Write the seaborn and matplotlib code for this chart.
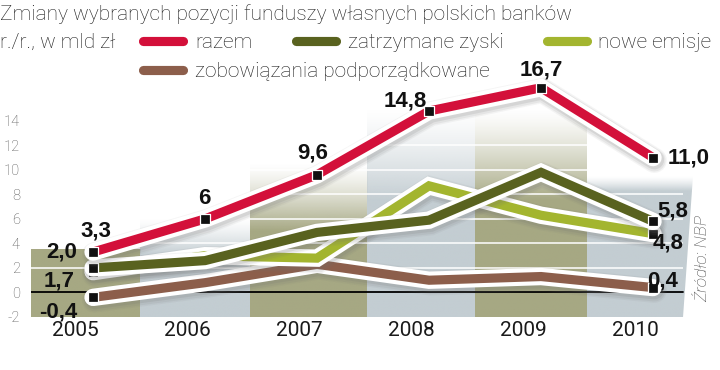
import numpy as np
import pandas as pd
import matplotlib
matplotlib.use("Agg")
import matplotlib.pyplot as plt
import seaborn as sns
import matplotlib.patheffects as pe
from matplotlib.colors import to_rgb
from matplotlib.patches import Polygon
from matplotlib.lines import Line2D

# ---------------- data ----------------
years = [2005, 2006, 2007, 2008, 2009, 2010]
razem = [3.3, 6.0, 9.6, 14.8, 16.7, 11.0]
zatrzymane_zyski = [2.0, 2.6, 4.9, 5.9, 9.8, 5.8]
nowe_emisje = [1.7, 3.0, 2.8, 8.7, 6.3, 4.8]
zobowiazania = [-0.4, 0.8, 2.3, 1.0, 1.3, 0.4]
razem_labels = ["3,3", "6", "9,6", "14,8", "16,7", "11,0"]
yticks = [-2, 0, 2, 4, 6, 8, 10, 12, 14]
series_names = ["razem", "zatrzymane zyski", "nowe emisje", "zobowiązania podporządkowane"]

title = "Zmiany wybranych pozycji funduszy własnych polskich banków"
subtitle = "r./r., w mld zł"
source = "Źródło: NBP"

C_RED = "#d3103a"
C_DARK = "#59621f"
C_LIGHT = "#a3b52f"
C_BROWN = "#8c5e4b"
C_OLIVE = "#a6a883"
C_BLUE = "#c3cdd2"

sns.set_theme(style="white")
plt.rcParams["font.family"] = ["Roboto", "DejaVu Sans"]

W, H = 720, 370
fig = plt.figure(figsize=(7.2, 3.7), dpi=100)
ax = fig.add_axes([31 / W, 1 - 317 / H, (693 - 31) / W, (317 - 71.8) / H])
XMIN, XMAX = -0.554, 5.357
YMIN, YMAX = -2, 18

idx = np.arange(len(years))

# ---------------- background bands ----------------
def band(x0, x1, top, fade, color, poly=None):
    n = 300
    ys = np.linspace(YMIN, top, n)
    if fade > 0:
        alpha = np.clip((top - ys) / fade, 0, 1) ** 1.3
    else:
        alpha = np.ones(n)
    rgba = np.zeros((n, 1, 4))
    rgba[..., :3] = to_rgb(color)
    rgba[:, 0, 3] = alpha
    im = ax.imshow(rgba, extent=(x0, x1, YMIN, top), origin="lower",
                   aspect="auto", zorder=0, interpolation="bilinear")
    if poly is not None:
        im.set_clip_path(Polygon(poly, closed=True, transform=ax.transData))

edges = [-0.554, 0.42, 1.40, 2.45, 3.41, 4.41, 5.268]
band(edges[0], edges[1], 3.5, 0.0, C_OLIVE)
band(edges[1], edges[2], 6.0, 3.0, C_BLUE)
band(edges[2], edges[3], 10.5, 5.5, C_OLIVE)
band(edges[3], edges[4], 15.0, 7.5, C_BLUE)
band(edges[4], edges[5], 15.0, 7.5, C_OLIVE)
band(edges[5], 5.357, 9.5, 1.2, C_BLUE,
     poly=[(edges[5], YMIN), (5.268, YMIN), (5.357, 9.5), (edges[5], 9.5)])

for yv in [2, 4, 6, 8, 10, 12]:
    ax.plot([XMIN, 5.268], [yv, yv], color="white", lw=1.1, zorder=0.5,
            solid_capstyle="butt")
ax.plot([XMIN, 5.268], [0, 0], color="black", lw=1.3, zorder=1)

# ---------------- lines ----------------
df = pd.DataFrame({"idx": idx, "razem": razem, "zatrzymane": zatrzymane_zyski,
                   "nowe": nowe_emisje, "zobow": zobowiazania})

effects = [pe.Stroke(linewidth=18, foreground="#707070", alpha=0.07, offset=(1.0, -2.0)),
           pe.Stroke(linewidth=16, foreground="#707070", alpha=0.10, offset=(1.0, -2.0)),
           pe.Stroke(linewidth=14, foreground="#707070", alpha=0.14, offset=(1.0, -1.5)),
           pe.Stroke(linewidth=12.5, foreground="white"),
           pe.Normal()]

specs = [("zobow", C_BROWN, 2), ("nowe", C_LIGHT, 3), ("zatrzymane", C_DARK, 4), ("razem", C_RED, 5)]
for col, color, z in specs:
    sns.lineplot(data=df, x="idx", y=col, ax=ax, color=color, lw=6.6, zorder=z,
                 legend=False)
    ln = ax.lines[-1]
    ln.set_solid_capstyle("round")
    ln.set_solid_joinstyle("miter")
    ln.set_path_effects(effects)
    ln.set_zorder(z)
    if col == "razem":
        mdf = df
    else:
        mdf = df.iloc[[0, len(df) - 1]]
    sns.scatterplot(data=mdf, x="idx", y=col, ax=ax, marker="s", s=44,
                    color="#111111", edgecolor="white", linewidth=0.9,
                    zorder=z + 0.5, legend=False)
    ax.collections[-1].set_zorder(z + 0.5)

# ---------------- value labels ----------------
lab_font = dict(family=["Liberation Sans", "DejaVu Sans"], fontweight="bold",
                fontsize=16, color="#111111")

def lab(i, v, text, dx, dy, ha="center"):
    ax.annotate(text, xy=(i, v), xytext=(dx, dy), textcoords="offset pixels",
                ha=ha, va="baseline", zorder=10, annotation_clip=False, **lab_font)

red_off = [(3, 16, "center"), (-1, 15, "center"), (-4, 16, "center"),
           (-24, 5, "center"), (0, 12, "center"), (15, -6, "left")]
for i, (v, t, (dx, dy, ha)) in enumerate(zip(razem, razem_labels, red_off)):
    lab(i, v, t, dx, dy, ha)

def fmt(v):
    return f"{v:.1f}".replace(".", ",")

lab(0, zatrzymane_zyski[0], fmt(zatrzymane_zyski[0]), -16, 10, "right")
lab(0, nowe_emisje[0], fmt(nowe_emisje[0]), -18, -15, "right")
lab(0, zobowiazania[0], fmt(zobowiazania[0]), -16, -20, "right")
lab(5, zatrzymane_zyski[5], fmt(zatrzymane_zyski[5]), 4, 5, "left")
lab(5, nowe_emisje[5], fmt(nowe_emisje[5]), 0, -15, "left")
lab(5, zobowiazania[5], fmt(zobowiazania[5]), -6, 1, "left")

# ---------------- axes ----------------
ax.set_xlim(XMIN, XMAX)
ax.set_ylim(YMIN, YMAX)
ax.set_yticks(yticks)
ax.set_yticklabels([str(t) for t in yticks])
ax.set_xticks([i - 0.16 for i in idx])
ax.set_xticklabels([str(y) for y in years])
ax.tick_params(axis="y", length=0, pad=8, labelsize=10.5, labelcolor="#555555")
ax.tick_params(axis="x", length=0, pad=3, labelsize=15, labelcolor="#1a1a1a")
for lbl in ax.get_yticklabels():
    lbl.set_fontweight("light")
ax.set_xlabel("")
ax.set_ylabel("")
for s in ax.spines.values():
    s.set_visible(False)
ax.patch.set_alpha(0)
ax.grid(False)

# ---------------- title / legend ----------------
def fy(px):
    return 1 - px / H

tfont = dict(family=["Roboto", "DejaVu Sans"], fontweight="light", color="#1a1a1a")
fig.text(0 / W, fy(20.5), title, ha="left", va="baseline", fontsize=15.0, **tfont)
fig.text(0 / W, fy(48), subtitle, ha="left", va="baseline", fontsize=15.0, **tfont)

leg = [(series_names[0], C_RED, 142.5, 40.5, 195, 48),
       (series_names[1], C_DARK, 295.5, 40.5, 348, 48),
       (series_names[2], C_LIGHT, 546.5, 40.5, 598, 48),
       (series_names[3], C_BROWN, 142.5, 69.5, 195, 77)]
for name, color, sx, sy, tx, ty in leg:
    fig.add_artist(Line2D([sx / W, (sx + 40) / W], [fy(sy), fy(sy)], color=color,
                          lw=6.6, solid_capstyle="round", transform=fig.transFigure))
    fig.text(tx / W, fy(ty), name, ha="left", va="baseline", fontsize=15.0, **tfont)

fig.text(703 / W, fy(259), source, rotation=90, ha="center", va="center",
         fontsize=12.5, style="italic", color="#444444",
         family=["Roboto", "DejaVu Sans"], fontweight="light")

fig.savefig("out.png", dpi=100)
